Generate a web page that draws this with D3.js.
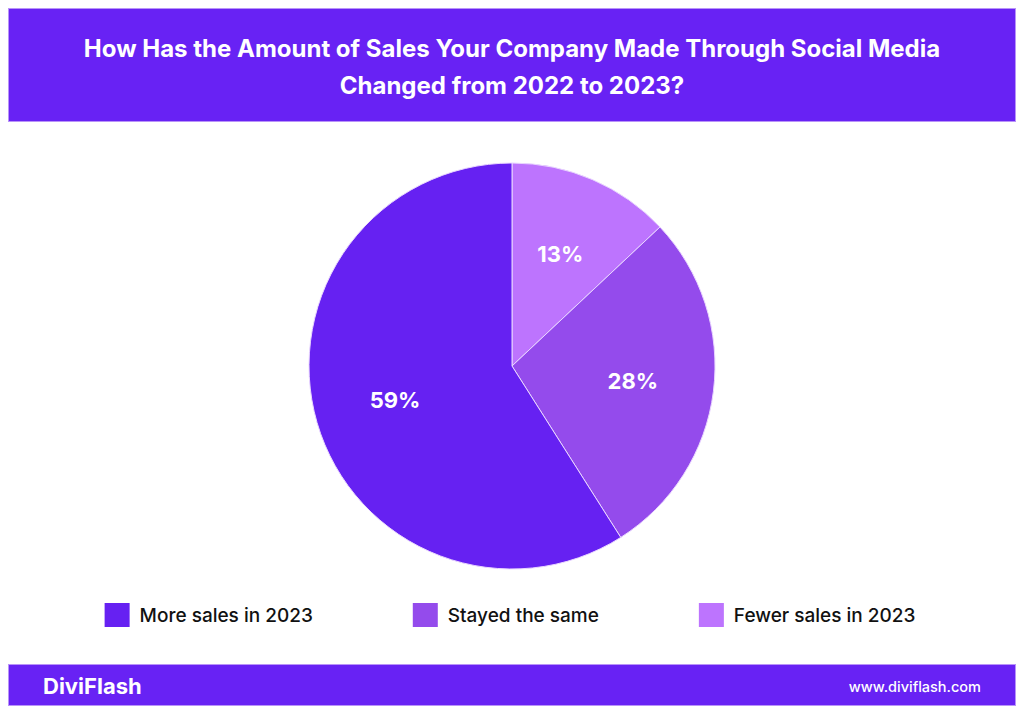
<!DOCTYPE html>
<html>
<head>
<meta charset="utf-8">
<script src="https://cdn.jsdelivr.net/npm/d3@7"></script>
<style>
  html, body { margin: 0; padding: 0; background: #fff; }
  svg { display: block; }
</style>
</head>
<body>
<div id="chart"></div>
<script>
// Pie chart: sales through social media, 2022 -> 2023

const titleLines = [
    "How Has the Amount of Sales Your Company Made Through Social Media",
    "Changed from 2022 to 2023?"
];

// clockwise from 12 o'clock
const categories = ["Fewer sales in 2023", "Stayed the same", "More sales in 2023"];
const values = [13, 28, 59];
const sliceColors = ["#bd74fe", "#944bec", "#6621f2"];

// legend reads left to right
const legendOrder = ["More sales in 2023", "Stayed the same", "Fewer sales in 2023"];

const brandName = "DiviFlash";
const siteUrl = "www.diviflash.com";

const W = 1024, H = 715;
const BRAND = "#6822f4";
const FONT = "Inter, 'DejaVu Sans', sans-serif";

const svg = d3.select("#chart").append("svg")
    .attr("width", W)
    .attr("height", H);

// header band
svg.append("rect")
    .attr("x", 8.5).attr("y", 8.5)
    .attr("width", W - 17).attr("height", 113)
    .attr("fill", BRAND)
    .attr("stroke", "#b993f9")
    .attr("stroke-width", 1);

svg.append("g")
    .selectAll("text")
    .data(titleLines)
    .join("text")
    .attr("x", W / 2)
    .attr("y", (d, i) => 57 + i * 37)
    .attr("text-anchor", "middle")
    .attr("font-family", FONT)
    .attr("font-size", "24px")
    .attr("font-weight", 700)
    .attr("fill", "#fff")
    .text(d => d);

// pie
const cx = 512, cy = 366, radius = 203;
const color = d3.scaleOrdinal().domain(categories).range(sliceColors);

const pie = d3.pie()
    .sort(null)
    .value(d => d.value);

const rows = categories.map((c, i) => ({ name: c, value: values[i] }));
const arcs = pie(rows);

const arc = d3.arc().innerRadius(0).outerRadius(radius);
const labelArc = d3.arc().innerRadius(radius * 0.6).outerRadius(radius * 0.6);

const g = svg.append("g")
    .attr("transform", `translate(${cx},${cy})`);

g.selectAll("path")
    .data(arcs)
    .join("path")
    .attr("d", arc)
    .attr("fill", d => color(d.data.name))
    .attr("stroke", "#e9d6ff")
    .attr("stroke-width", 1);

g.selectAll("text")
    .data(arcs)
    .join("text")
    .attr("transform", d => `translate(${labelArc.centroid(d)})`)
    .attr("text-anchor", "middle")
    .attr("dominant-baseline", "central")
    .attr("font-family", FONT)
    .attr("font-size", "22px")
    .attr("font-weight", 700)
    .attr("fill", "#fff")
    .text(d => d.data.value + "%");

// legend: swatch + label, fixed gap between items, centred as a block
const swatch = 25, textGap = 10, itemGap = 100;

const legend = svg.append("g");

const leg = legend.selectAll("g")
    .data(legendOrder)
    .join("g");

leg.append("rect")
    .attr("width", swatch)
    .attr("height", 24)
    .attr("fill", d => color(d));

leg.append("text")
    .attr("x", swatch + textGap)
    .attr("y", 12)
    .attr("dominant-baseline", "central")
    .attr("font-family", FONT)
    .attr("font-size", "19px")
    .attr("font-weight", 500)
    .attr("fill", "#111")
    .text(d => d);

let offset = 0;
leg.each(function () {
    const item = d3.select(this);
    item.attr("data-x", offset);
    const w = swatch + textGap + item.select("text").node().getComputedTextLength();
    offset += w + itemGap;
});
const legendWidth = offset - itemGap;
const legendStart = 510 - legendWidth / 2;
leg.attr("transform", function () {
    return `translate(${legendStart + (+this.getAttribute("data-x"))},603)`;
});

// footer band
svg.append("rect")
    .attr("x", 8.5).attr("y", 664.5)
    .attr("width", W - 17).attr("height", 41)
    .attr("fill", BRAND)
    .attr("stroke", "#b993f9")
    .attr("stroke-width", 1);

svg.append("text")
    .attr("x", 43)
    .attr("y", 686)
    .attr("dominant-baseline", "central")
    .attr("font-family", FONT)
    .attr("font-size", "22px")
    .attr("font-weight", 700)
    .attr("fill", "#fff")
    .text(brandName);

svg.append("text")
    .attr("x", 981)
    .attr("y", 686)
    .attr("text-anchor", "end")
    .attr("dominant-baseline", "central")
    .attr("font-family", FONT)
    .attr("font-size", "14.5px")
    .attr("font-weight", 500)
    .attr("fill", "#fff")
    .text(siteUrl);
</script>
</body>
</html>
